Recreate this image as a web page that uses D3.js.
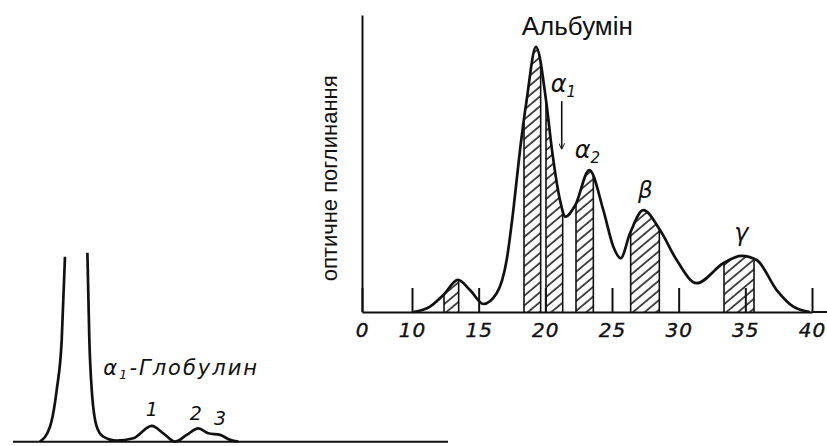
<!DOCTYPE html>
<html>
<head>
  <meta charset="utf-8">
  <title>Електрофореграма білків</title>
  <style>
    body { margin: 0; background: #fff; }
    svg { display: block; }
    .curve { fill: none; stroke: #111; stroke-width: 2.7px; stroke-linejoin: round; }
    .edge { stroke: #111; stroke-width: 1.6px; }
    .axis path, .axis line { stroke: #111; stroke-width: 2px; }
    .axis text { font: oblique 20px "DejaVu Sans", sans-serif; fill: #111; stroke: #111; stroke-width: 0.4px; letter-spacing: 1px; }
    .lbl { font-family: "Liberation Sans", sans-serif; fill: #111; }
    .it { font-family: "DejaVu Sans", sans-serif; font-style: oblique; }
  </style>
  <script src="https://cdn.jsdelivr.net/npm/d3@7"></script>
</head>
<body>
  <script>
    // main electrophoregram: position (mm) vs optical absorbance
    var posMain = [10.1, 11.35, 12.35, 13.45, 14.35, 15.35, 16.35, 17.1, 17.6, 18.1, 18.6, 19.3, 20.05, 20.5, 21.1, 21.5, 22.25, 23.3, 24.35, 25.1, 25.65, 26.35, 27.35, 28.6, 29.85, 31.35, 33.35, 34.7, 35.85, 37.35, 38.6, 39.85];
    var absMain = [0, 1.8, 5.7, 10.8, 7.4, 2.7, 6.3, 17.5, 34.3, 54.5, 71.4, 89.3, 71.4, 54.5, 37.7, 32.1, 36, 47.8, 34.3, 22, 18.1, 26.5, 34.3, 27.6, 17.5, 9.7, 16.4, 18.9, 17.5, 7.4, 1.8, 0];
    var bandStart = [12.4, 18.4, 20.05, 22.3, 26.4, 33.4];
    var bandEnd   = [13.5, 19.65, 21.3, 23.6, 28.55, 35.65];
    var tickVals  = [0, 10, 15, 20, 25, 30, 35, 40];

    // small α1-globulin trace (null = peak off scale)
    var posSmall = [6.2, 8.5, 10.05, 11.2, 11.95, 14.5, 17.1, 17.55, 18.1, 19.25, 20.75, 23.85, 27.65, 31.9, 34.55, 37.25, 39.95, 42.6, 44.9, 47.6, 49.9, 51.8];
    var absSmall = [0, 7.5, 25.9, 50.9, 92.5, null, 94.5, 50.9, 25.9, 7.5, 2.5, 0.5, 1.7, 7.9, 4.2, 0, 3.4, 6.7, 4.2, 3.4, 0.9, 0];
    var smallPeaks = ["1", "2", "3"];
    var smallPeakPos = [31.9, 42.0, 47.6];

    var width = 827;
    var height = 446;
    var svg = d3.select('body')
      .append('svg')
      .attr('width', width)
      .attr('height', height);

    var defs = svg.append('defs');
    var pat = defs.append('pattern')
      .attr('id', 'hatch')
      .attr('width', 7.5)
      .attr('height', 7.5)
      .attr('patternUnits', 'userSpaceOnUse')
      .attr('patternTransform', 'rotate(50)');
    pat.append('line')
      .attr('x1', 1).attr('y1', 0)
      .attr('x2', 1).attr('y2', 7.5)
      .attr('stroke', '#111')
      .attr('stroke-width', 1.5);

    defs.append('marker')
      .attr('id', 'arrow')
      .attr('viewBox', '0 0 10 10')
      .attr('refX', 9).attr('refY', 5)
      .attr('markerWidth', 8).attr('markerHeight', 6)
      .attr('markerUnits', 'userSpaceOnUse')
      .attr('orient', 'auto')
      .append('path')
      .attr('d', 'M0,0L10,5L0,10')
      .attr('fill', 'none')
      .attr('stroke', '#111')
      .attr('stroke-width', 1.6);

    var x = d3.scaleLinear().domain([0, 10, 40]).range([362, 412, 812]);
    var y = d3.scaleLinear().domain([0, 100]).range([312, 15]);

    var pts = posMain.map((p, i) => [p, absMain[i]]);
    var line = d3.line().x(d => x(d[0])).y(d => y(d[1])).curve(d3.curveMonotoneX);
    var area = d3.area().x(d => x(d[0])).y0(y(0)).y1(d => y(d[1])).curve(d3.curveMonotoneX);

    defs.append('clipPath').attr('id', 'under')
      .append('path').attr('d', area(pts));

    // hatched fractions
    var bands = svg.append('g').attr('clip-path', 'url(#under)');
    bandStart.forEach(function(b, i) {
      bands.append('rect')
        .attr('x', x(b))
        .attr('y', y(100))
        .attr('width', x(bandEnd[i]) - x(b))
        .attr('height', y(0) - y(100))
        .attr('fill', 'url(#hatch)');
      [b, bandEnd[i]].forEach(function(v) {
        bands.append('line')
          .attr('class', 'edge')
          .attr('x1', x(v)).attr('x2', x(v))
          .attr('y1', y(0)).attr('y2', y(100));
      });
    });

    // axes
    var xAxis = d3.axisBottom(x)
      .tickValues(tickVals)
      .tickSizeInner(-24)
      .tickSizeOuter(0)
      .tickPadding(6)
      .tickFormat(d3.format('d'));
    var gx = svg.append('g')
      .attr('class', 'axis')
      .attr('transform', 'translate(0,' + y(0) + ')')
      .call(xAxis);
    gx.selectAll('.tick text').attr('dy', '0.95em');
    gx.append('line')
      .attr('x1', x(40)).attr('x2', width)
      .attr('y1', 0).attr('y2', 0);

    svg.append('g')
      .attr('class', 'axis')
      .attr('transform', 'translate(' + x(0) + ',0)')
      .call(d3.axisLeft(y).tickValues([]).tickSizeOuter(0));

    svg.append('text')
      .attr('class', 'lbl')
      .attr('transform', 'translate(337,' + y(45) + ') rotate(-90)')
      .attr('text-anchor', 'middle')
      .style('font-size', '22px')
      .text('оптичне поглинання');

    svg.append('path')
      .attr('class', 'curve')
      .attr('d', line(pts));

    // labels
    svg.append('text')
      .attr('class', 'lbl')
      .attr('x', x(22.4)).attr('y', y(93.3))
      .attr('text-anchor', 'middle')
      .style('font-size', '26px')
      .text('Альбумін');

    var a1 = svg.append('text').attr('class', 'lbl it')
      .attr('x', x(20.4)).attr('y', y(74))
      .style('font-size', '24px');
    a1.append('tspan').text('α');
    a1.append('tspan').attr('dy', 5).style('font-size', '15px').text('1');

    svg.append('line')
      .attr('x1', x(21.23)).attr('x2', x(21.23))
      .attr('y1', y(71)).attr('y2', y(55))
      .attr('stroke', '#111').attr('stroke-width', 1.6)
      .attr('marker-end', 'url(#arrow)');

    var a2 = svg.append('text').attr('class', 'lbl it')
      .attr('x', x(22.2)).attr('y', y(52))
      .style('font-size', '24px');
    a2.append('tspan').text('α');
    a2.append('tspan').attr('dy', 5).style('font-size', '15px').text('2');

    svg.append('text').attr('class', 'lbl it')
      .attr('x', x(27.5)).attr('y', y(38.5))
      .attr('text-anchor', 'middle')
      .style('font-size', '23px')
      .text('β');

    svg.append('text').attr('class', 'lbl it')
      .attr('x', x(34.7)).attr('y', y(24))
      .attr('text-anchor', 'middle')
      .style('font-size', '24px')
      .text('γ');

    // small trace at bottom left
    var lx = d3.scaleLinear().domain([0, 100]).range([13, 448]);
    var ly = d3.scaleLinear().domain([0, 100]).range([441.7, 241.7]);
    var smallPts = posSmall.map((p, i) => [p, absSmall[i]]);

    svg.append('line')
      .attr('x1', lx(0)).attr('x2', lx(100))
      .attr('y1', ly(0)).attr('y2', ly(0))
      .attr('stroke', '#111').attr('stroke-width', 2);

    svg.append('path')
      .attr('class', 'curve')
      .attr('d', d3.line()
        .defined(d => d[1] !== null)
        .x(d => lx(d[0])).y(d => ly(d[1]))
        .curve(d3.curveMonotoneX)(smallPts));

    var g1 = svg.append('text').attr('class', 'lbl it')
      .attr('x', lx(20.75)).attr('y', ly(33.4))
      .style('font-size', '21px')
      .style('letter-spacing', '2px');
    g1.append('tspan').text('α');
    g1.append('tspan').attr('dy', 4).style('font-size', '13px').text('1');
    g1.append('tspan').attr('dy', -4).text('-Глобулин');

    svg.selectAll('.peakNo')
      .data(smallPeaks)
      .enter().append('text')
      .attr('class', 'lbl it peakNo')
      .attr('x', (d, i) => lx(smallPeakPos[i]))
      .attr('y', (d, i) => [416, 420, 425][i])
      .attr('text-anchor', 'middle')
      .style('font-size', '19px')
      .text(d => d);
  </script>
</body>
</html>
